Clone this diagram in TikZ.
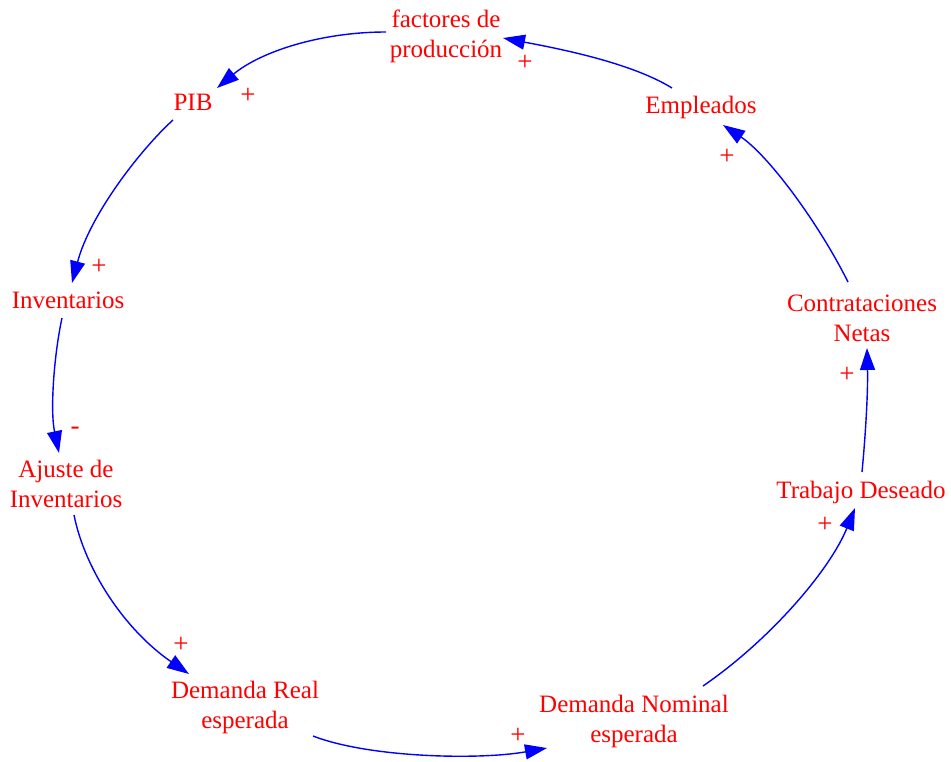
\documentclass[tikz,border=0pt]{standalone}
\usepackage{fontspec}
\setmainfont{Liberation Serif}
\usetikzlibrary{arrows.meta}
\begin{document}
\begin{tikzpicture}[x=1pt,y=-1pt,
  var/.style={text=red, font=\fontsize{25}{30}\selectfont, inner sep=0pt, align=center},
  pol/.style={text=red, font=\fontsize{27}{30}\selectfont, inner sep=0pt},
  link/.style={draw=blue, line width=1.4pt, -{Triangle[length=22pt,width=15pt]}}]
\fill[white] (0,0) rectangle (951,761);
\useasboundingbox (0,0) rectangle (951,761);

% variables of the loop
\node[var] (fac) at (446,36)  {factores de\\producción};
\node[var] (pib) at (193,102) {PIB};
\node[var] (emp) at (701,107) {Empleados};
\node[var] (inv) at (68,300)  {Inventarios};
\node[var] (con) at (862,318) {Contrataciones\\Netas};
\node[var] (aju) at (66,484)  {Ajuste de\\Inventarios};
\node[var] (tra) at (861,492) {Trabajo Deseado};
\node[var] (dre) at (245,707) {Demanda Real\\esperada};
\node[var] (dno) at (634,721) {Demanda Nominal\\esperada};

% causal links
\draw[link] ([shift={(-29,-19)}]emp.center) .. controls (630,62) and (555,48) .. ([shift={(57,2)}]fac.center);
\draw[link] ([shift={(-60,-4)}]fac.center) .. controls (320,32) and (260,52) .. ([shift={(24,-14)}]pib.center);
\draw[link] ([shift={(-20,18)}]pib.center) .. controls (140,150) and (90,215) .. ([shift={(4,-17)}]inv.center);
\draw[link] ([shift={(-6,18)}]inv.center) .. controls (54,355) and (50,410) .. ([shift={(-7,-31)}]aju.center);
\draw[link] ([shift={(8,31)}]aju.center) .. controls (85,570) and (125,630) .. ([shift={(-56,-33)}]dre.center);
\draw[link] ([shift={(68,29)}]dre.center) .. controls (370,758) and (480,760) .. ([shift={(-87,27)}]dno.center);
\draw[link] ([shift={(69,-35)}]dno.center) .. controls (770,640) and (830,570) .. ([shift={(-6,16)}]tra.center);
\draw[link] ([shift={(1,-20)}]tra.center) .. controls (866,430) and (868,390) .. ([shift={(5,30)}]con.center);
\draw[link] ([shift={(-14,-36)}]con.center) .. controls (818,222) and (768,155) .. ([shift={(22,18)}]emp.center);

% link polarities
\node[pol] (s1) at (525,63)  {+};
\node[pol] (s2) at (248,96)  {+};
\node[pol] (s3) at (727,157) {+};
\node[pol] (s4) at (99,267)  {+};
\node[pol] (s5) at (75,431)  {-};
\node[pol] (s6) at (181,645) {+};
\node[pol] (s7) at (518,736) {+};
\node[pol] (s8) at (825,525) {+};
\node[pol] (s9) at (847,375) {+};
\end{tikzpicture}
\end{document}
